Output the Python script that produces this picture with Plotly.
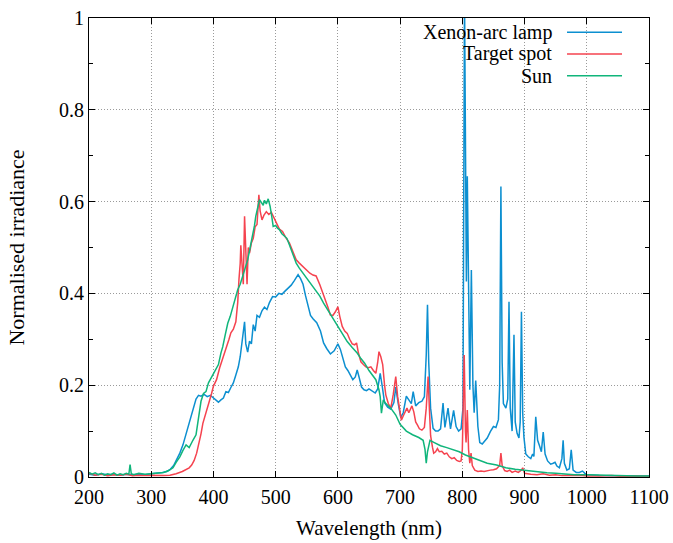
import plotly.graph_objects as go

# ---------------- data ----------------
xenon_nm = [200, 210, 220, 230, 240, 250, 260, 270, 280, 290, 300, 310, 318, 325, 330, 336, 341, 346, 351, 356,
            360, 364, 368, 372, 376, 380, 385, 390, 395, 400, 404, 408, 412, 416, 420, 424, 428, 432, 436, 440,
            443, 446, 448, 450, 452, 455, 458, 461, 464, 467, 470, 474, 478, 482, 486, 490, 495, 500, 505, 510,
            515, 520, 525, 530, 536, 540, 544, 548, 552, 556, 560, 566, 572, 577, 582, 588, 594, 600, 604, 608,
            612, 616, 620, 624, 628, 631, 634, 638, 642, 646, 650, 655, 660, 664, 668, 671, 675, 680, 685, 690,
            693, 697, 701, 705, 710, 714, 718, 721, 725, 730, 735, 739, 742, 744, 746, 749, 753, 757, 761, 765,
            769, 772, 777, 781, 786, 790, 794, 798, 801, 803.5, 806.5, 808, 810, 812, 814.5, 817, 819, 821.5, 825, 828,
            832, 836, 840, 845, 850, 854, 858, 860, 862, 864, 866, 870, 873, 875, 877, 880, 883, 885, 888, 891,
            893, 895, 897, 899, 902, 906, 910, 913, 915, 918, 921, 924, 927, 930, 933, 937, 942, 946, 949, 952,
            956, 960, 962, 964, 968, 972, 975, 978, 983, 988, 993, 997, 1000, 1020, 1050, 1080, 1100]
xenon_val = [0.006, 0.004, 0.007, 0.005, 0.006, 0.004, 0.006, 0.005, 0.006, 0.005, 0.007, 0.008, 0.010, 0.012, 0.016, 0.025, 0.037, 0.052, 0.070, 0.095,
             0.115, 0.131, 0.150, 0.170, 0.178, 0.176, 0.180, 0.175, 0.178, 0.172, 0.166, 0.163, 0.168, 0.172, 0.186, 0.184, 0.195, 0.205, 0.222, 0.240,
             0.262, 0.300, 0.318, 0.338, 0.290, 0.272, 0.296, 0.290, 0.332, 0.318, 0.352, 0.348, 0.362, 0.370, 0.365, 0.380, 0.393, 0.392, 0.400, 0.398,
             0.405, 0.412, 0.418, 0.428, 0.441, 0.432, 0.420, 0.395, 0.370, 0.352, 0.345, 0.336, 0.318, 0.292, 0.280, 0.268, 0.275, 0.290, 0.278, 0.258,
             0.240, 0.232, 0.222, 0.212, 0.218, 0.233, 0.218, 0.196, 0.190, 0.188, 0.192, 0.188, 0.183, 0.192, 0.226, 0.200, 0.162, 0.152, 0.148, 0.162,
             0.196, 0.160, 0.130, 0.140, 0.176, 0.168, 0.160, 0.186, 0.155, 0.162, 0.165, 0.175, 0.266, 0.375, 0.250, 0.150, 0.106, 0.100, 0.100, 0.105,
             0.161, 0.108, 0.150, 0.105, 0.145, 0.110, 0.100, 0.105, 0.150, 1.050, 0.426, 0.655, 0.450, 0.190, 0.451, 0.200, 0.140, 0.210, 0.110, 0.075,
             0.072, 0.078, 0.085, 0.099, 0.110, 0.108, 0.125, 0.200, 0.633, 0.250, 0.160, 0.150, 0.170, 0.382, 0.150, 0.100, 0.310, 0.120, 0.095, 0.085,
             0.120, 0.360, 0.140, 0.087, 0.050, 0.044, 0.040, 0.050, 0.045, 0.131, 0.080, 0.068, 0.055, 0.098, 0.050, 0.035, 0.028, 0.030, 0.032, 0.024,
             0.020, 0.040, 0.080, 0.030, 0.015, 0.018, 0.059, 0.015, 0.010, 0.010, 0.013, 0.008, 0.005, 0.003, 0.003, 0.002, 0.002]

target_nm = [200, 210, 220, 230, 240, 250, 260, 270, 280, 290, 300, 310, 320, 330, 340, 350, 356, 361, 365, 369,
             373, 377, 380, 383, 386, 390, 394, 397, 400, 405, 410, 415, 420, 425, 428, 432, 436, 439, 441, 443,
             444, 446, 448, 450, 452, 454, 456, 458, 461, 464, 467, 470, 473, 475, 478, 481, 485, 489, 493, 497,
             501, 506, 511, 516, 522, 527, 533, 538, 544, 550, 555, 560, 565, 571, 575, 579, 584, 588, 592, 596,
             600, 603, 607, 611, 615, 619, 623, 627, 630, 633, 637, 641, 645, 649, 653, 657, 661, 664, 666, 669,
             672, 675, 677, 681, 685, 689, 691, 693, 696, 699, 702, 705, 708, 711, 714, 717, 719, 722, 725, 728,
             731, 735, 739, 742, 744, 745, 747, 749, 752, 754, 757, 760, 763, 767, 771, 775, 779, 783, 787, 791,
             795, 798, 800, 802, 803, 805, 806, 808, 810, 812, 814, 816, 820, 825, 830, 835, 840, 845, 850, 855,
             860, 862, 864, 868, 872, 876, 880, 885, 890, 895, 897, 900, 910, 920, 930, 940, 950, 960, 970, 980,
             990, 1000, 1020, 1040, 1060, 1080, 1100]
target_val = [0.008, 0.004, 0.006, 0.003, 0.005, 0.004, 0.006, 0.003, 0.004, 0.003, 0.004, 0.003, 0.003, 0.004, 0.007, 0.012, 0.016, 0.020, 0.026, 0.036,
              0.052, 0.074, 0.094, 0.117, 0.130, 0.150, 0.168, 0.182, 0.198, 0.212, 0.238, 0.258, 0.275, 0.300, 0.314, 0.322, 0.338, 0.380, 0.430, 0.465,
              0.505, 0.470, 0.420, 0.568, 0.470, 0.420, 0.500, 0.488, 0.510, 0.520, 0.545, 0.550, 0.615, 0.580, 0.560, 0.570, 0.578, 0.572, 0.577, 0.566,
              0.556, 0.540, 0.535, 0.522, 0.510, 0.492, 0.473, 0.466, 0.458, 0.450, 0.444, 0.440, 0.438, 0.419, 0.405, 0.389, 0.370, 0.353, 0.352, 0.360,
              0.371, 0.350, 0.328, 0.318, 0.313, 0.300, 0.290, 0.288, 0.292, 0.270, 0.251, 0.245, 0.240, 0.238, 0.240, 0.232, 0.226, 0.250, 0.273, 0.262,
              0.245, 0.200, 0.179, 0.160, 0.150, 0.180, 0.205, 0.219, 0.175, 0.146, 0.124, 0.133, 0.142, 0.150, 0.140, 0.150, 0.155, 0.142, 0.120, 0.113,
              0.105, 0.102, 0.108, 0.150, 0.200, 0.219, 0.150, 0.090, 0.065, 0.052, 0.055, 0.062, 0.055, 0.056, 0.050, 0.052, 0.044, 0.040, 0.042, 0.036,
              0.034, 0.035, 0.060, 0.200, 0.266, 0.100, 0.075, 0.146, 0.060, 0.030, 0.052, 0.025, 0.015, 0.012, 0.013, 0.012, 0.014, 0.015, 0.016, 0.018,
              0.025, 0.052, 0.025, 0.014, 0.012, 0.015, 0.010, 0.013, 0.010, 0.015, 0.020, 0.008, 0.006, 0.005, 0.007, 0.004, 0.005, 0.003, 0.004, 0.003,
              0.004, 0.002, 0.002, 0.003, 0.001, 0.002, 0.001]

sun_nm = [200, 205, 210, 215, 220, 225, 230, 235, 240, 245, 250, 255, 260, 264, 266, 268, 272, 280, 290, 300,
          310, 320, 328, 335, 340, 346, 351, 356, 361, 364, 367, 372, 376, 380, 384, 388, 392, 396, 400, 404,
          408, 412, 415, 419, 423, 427, 431, 435, 439, 443, 447, 451, 455, 459, 463, 466, 468, 471, 474, 477,
          480, 482, 485, 488, 491, 494, 496, 500, 503, 506, 510, 514, 518, 522, 527, 533, 538, 544, 550, 555,
          560, 566, 571, 577, 582, 588, 594, 600, 607, 615, 623, 631, 637, 643, 650, 656, 661, 666, 668, 670,
          673, 677, 685, 693, 700, 710, 720, 730, 737, 740, 742, 744, 748, 755, 765, 775, 785, 795, 805, 815,
          828, 840, 855, 870, 885, 898, 910, 925, 936, 950, 965, 980, 1000, 1020, 1040, 1060, 1080, 1100]
sun_val = [0.010, 0.006, 0.009, 0.005, 0.008, 0.004, 0.007, 0.005, 0.009, 0.004, 0.007, 0.005, 0.008, 0.006, 0.027, 0.007, 0.005, 0.008, 0.006, 0.007,
           0.008, 0.010, 0.014, 0.020, 0.032, 0.044, 0.058, 0.070, 0.064, 0.074, 0.080, 0.092, 0.124, 0.165, 0.182, 0.186, 0.205, 0.215, 0.222, 0.233,
           0.245, 0.270, 0.284, 0.310, 0.335, 0.350, 0.371, 0.388, 0.408, 0.420, 0.437, 0.455, 0.473, 0.500, 0.524, 0.548, 0.568, 0.585, 0.604, 0.598,
           0.592, 0.603, 0.595, 0.606, 0.590, 0.565, 0.546, 0.548, 0.542, 0.539, 0.530, 0.525, 0.520, 0.506, 0.487, 0.466, 0.455, 0.444, 0.432, 0.422,
           0.415, 0.404, 0.394, 0.379, 0.368, 0.357, 0.343, 0.328, 0.313, 0.295, 0.282, 0.270, 0.258, 0.248, 0.232, 0.220, 0.212, 0.190, 0.175, 0.139,
           0.168, 0.160, 0.150, 0.135, 0.115, 0.100, 0.092, 0.086, 0.080, 0.060, 0.030, 0.055, 0.080, 0.075, 0.068, 0.064, 0.060, 0.055, 0.048, 0.043,
           0.036, 0.030, 0.026, 0.020, 0.017, 0.015, 0.012, 0.010, 0.009, 0.008, 0.006, 0.005, 0.005, 0.004, 0.003, 0.003, 0.002, 0.002]

series_names = ["Xenon-arc lamp", "Target spot", "Sun"]
series_colors = ["#0c8fd0", "#f5434f", "#10b57b"]
x_ticks = [200, 300, 400, 500, 600, 700, 800, 900, 1000, 1100]
y_ticks = [0, 0.2, 0.4, 0.6, 0.8, 1]

FONT = "Liberation Serif"

fig = go.Figure()
for name, xs, ys, col in zip(series_names,
                             [xenon_nm, target_nm, sun_nm],
                             [xenon_val, target_val, sun_val],
                             series_colors):
    fig.add_trace(go.Scatter(x=xs, y=ys, mode="lines", name=name,
                             line=dict(color=col, width=1.5), showlegend=False))

# gnuplot-style legend: right-aligned text with line sample on the right
leg_y = [0.969, 0.9216, 0.8742]
for name, col, yy in zip(series_names, series_colors, leg_y):
    fig.add_annotation(x=0.8286, y=yy, xref="paper", yref="paper", text=name,
                       showarrow=False, xanchor="right", yanchor="middle", borderpad=0,
                       font=dict(family=FONT, size=20, color="black"))
    fig.add_shape(type="line", xref="paper", yref="paper", x0=0.8536, x1=0.9518,
                  y0=yy, y1=yy, line=dict(color=col, width=1.5))

grid = dict(showgrid=True, gridcolor="#9a9a9a", gridwidth=1, griddash="1px,2px")
fig.update_xaxes(range=[200, 1100], tickvals=x_ticks, ticks="inside", ticklen=6,
                 tickcolor="black", showline=True, linecolor="black", linewidth=1,
                 mirror="allticks", zeroline=False, automargin=False, ticklabelstandoff=2,
                 title=dict(text="Wavelength (nm)", font=dict(family=FONT, size=21), standoff=13),
                 tickfont=dict(family=FONT, size=20, color="black"), **grid)
fig.update_yaxes(range=[0, 1], tickvals=y_ticks, ticks="inside", ticklen=6,
                 tickcolor="black", showline=True, linecolor="black", linewidth=1,
                 mirror="allticks", zeroline=False, automargin=False,
                 minor=dict(dtick=0.1, ticks="inside", ticklen=4, tickcolor="black", showgrid=False),
                 title=dict(text="Normalised irradiance", font=dict(family=FONT, size=22), standoff=28),
                 tickfont=dict(family=FONT, size=20, color="black"), **grid)

fig.update_layout(width=673, height=543, margin=dict(l=89, r=24, t=18, b=66),
                  paper_bgcolor="white", plot_bgcolor="white",
                  font=dict(family=FONT, size=20, color="black"))

fig.write_html("out.html", config={"displayModeBar": False, "staticPlot": True})

# remove the browser's default 8px page margin so the figure sits at (0, 0)
with open("out.html", "r", encoding="utf-8") as f:
    html = f.read()
html = html.replace("<head>", "<head><style>html,body{margin:0;padding:0;overflow:hidden;}</style>", 1)
with open("out.html", "w", encoding="utf-8") as f:
    f.write(html)
